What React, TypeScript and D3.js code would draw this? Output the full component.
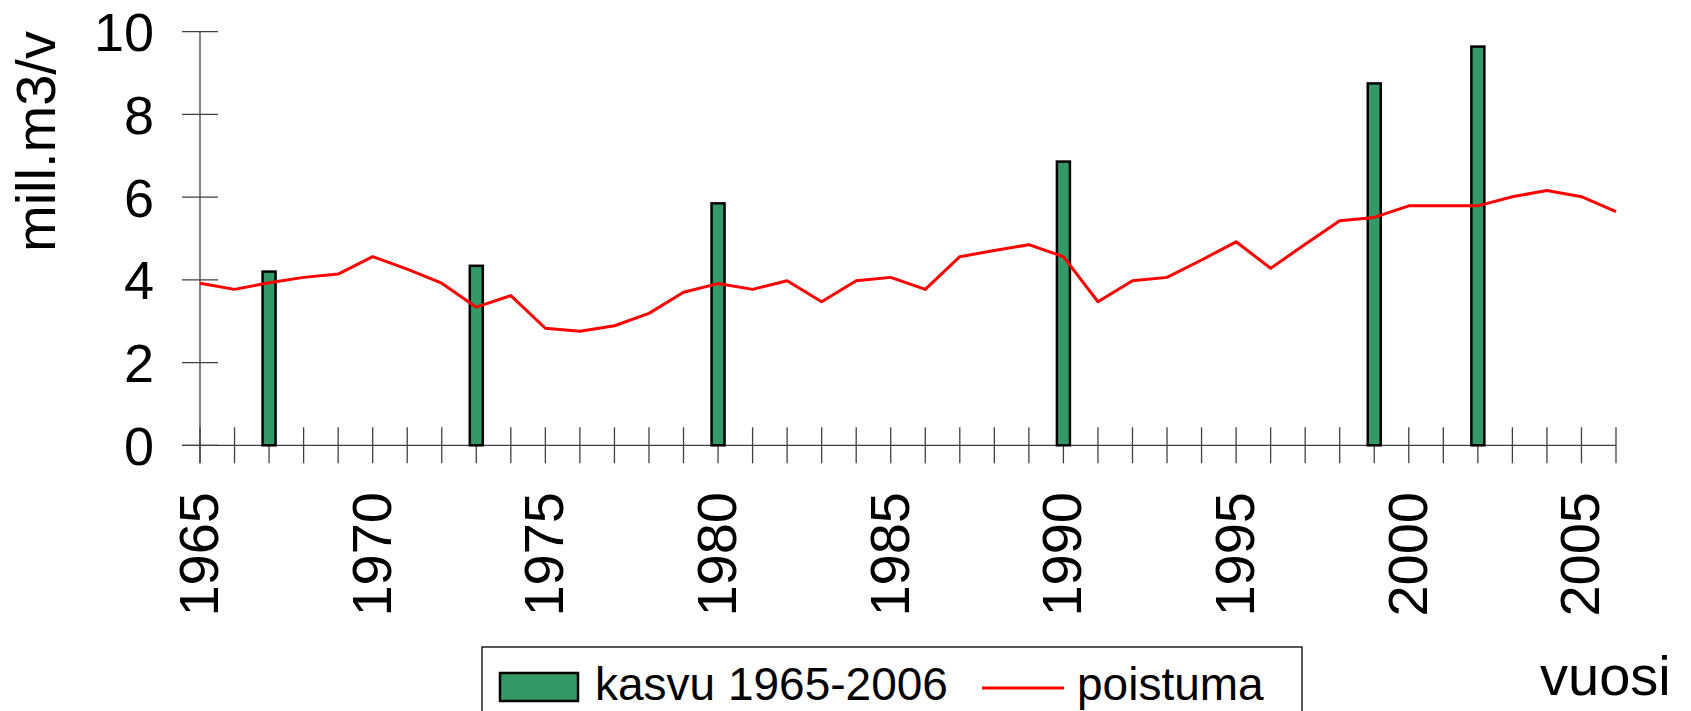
import * as d3 from 'd3'

// Vuodet (kategoria-akseli)
const YEARS = [
  1965, 1966, 1967, 1968, 1969, 1970, 1971, 1972, 1973, 1974,
  1975, 1976, 1977, 1978, 1979, 1980, 1981, 1982, 1983, 1984,
  1985, 1986, 1987, 1988, 1989, 1990, 1991, 1992, 1993, 1994,
  1995, 1996, 1997, 1998, 1999, 2000, 2001, 2002, 2003, 2004,
  2005, 2006,
]

// poistuma, mill.m3/v
const POISTUMA = [
  3.92, 3.77, 3.93, 4.06, 4.14, 4.56, 4.26, 3.92, 3.34, 3.62,
  2.83, 2.76, 2.89, 3.19, 3.70, 3.91, 3.77, 3.98, 3.47, 3.98,
  4.06, 3.77, 4.56, 4.71, 4.85, 4.56, 3.47, 3.98, 4.06, 4.48,
  4.92, 4.28, 4.86, 5.43, 5.51, 5.79, 5.79, 5.79, 6.01, 6.16,
  6.01, 5.65,
]

// kasvu 1965-2006 (inventointivuodet)
const KASVU_YEARS = [1967, 1973, 1980, 1990, 1999, 2002]
const KASVU = [4.2, 4.34, 5.85, 6.86, 8.75, 9.64]

const Y_TICKS = [0, 2, 4, 6, 8, 10]
const X_LABELS = [1965, 1970, 1975, 1980, 1985, 1990, 1995, 2000, 2005]

const W = 1691
const H = 711
const FONT = '"Liberation Sans", Arial, sans-serif'
const AXIS = '#404040'
const GREEN = '#339966'
const RED = '#ff0000'

export default function App() {
  const x = d3.scalePoint<number>().domain(YEARS).range([200, 1616])
  const y = d3.scaleLinear().domain([0, 10]).range([445.3, 31.7])
  const y0 = y(0)
  const barW = 13

  const line = d3.line<number>()
    .x((_, i) => x(YEARS[i]) as number)
    .y((d) => y(d))

  return (
    <div style={{ position: 'absolute', left: 0, top: 0 }}>
      <svg width={W} height={H} style={{ display: 'block', background: '#fff' }} fontFamily={FONT}>
        {/* ── Y axis ── */}
        <line x1={200} x2={200} y1={y(10)} y2={y0 + 18} stroke={AXIS} strokeWidth={1.3} />
        {Y_TICKS.map((t) => (
          <g key={t}>
            <line x1={182} x2={218} y1={y(t)} y2={y(t)} stroke={AXIS} strokeWidth={1.3} />
            <text x={154} y={y(t)} dy="0.36em" textAnchor="end" fontSize={54} fill="#000">{t}</text>
          </g>
        ))}
        <text transform="translate(55,252) rotate(-90)" fontSize={56} fill="#000">mill.m3/v</text>

        {/* ── X axis ── */}
        <line x1={182} x2={x(2006) as number} y1={y0} y2={y0} stroke={AXIS} strokeWidth={1.3} />
        {YEARS.map((yr) => (
          <line key={yr} x1={x(yr) as number} x2={x(yr) as number} y1={y0 - 18} y2={y0 + 18}
            stroke={AXIS} strokeWidth={1.3} />
        ))}
        {X_LABELS.map((yr) => (
          <text key={yr} transform={`translate(${(x(yr) as number) + 18},492) rotate(-90)`}
            textAnchor="end" fontSize={56} fill="#000">{yr}</text>
        ))}
        <text x={1540} y={695} fontSize={56} fill="#000">vuosi</text>

        {/* ── Bars ── */}
        {KASVU.map((v, i) => {
          const cx = x(KASVU_YEARS[i]) as number
          return (
            <rect key={KASVU_YEARS[i]} x={cx - barW / 2} y={y(v)} width={barW} height={y0 - y(v)}
              fill={GREEN} stroke="#000" strokeWidth={2.5} />
          )
        })}

        {/* ── Line ── */}
        <path d={line(POISTUMA) ?? ''} fill="none" stroke={RED} strokeWidth={3} strokeLinejoin="round" />

        {/* ── Legend ── */}
        <rect x={482} y={647} width={820} height={90} fill="#fff" stroke="#000" strokeWidth={1.3} />
        <rect x={500} y={673} width={78} height={28} fill={GREEN} stroke="#000" strokeWidth={2.5} />
        <text x={595} y={700} fontSize={46} fill="#000">kasvu 1965-2006</text>
        <line x1={982} x2={1064} y1={688} y2={688} stroke={RED} strokeWidth={3} />
        <text x={1077} y={700} fontSize={46} fill="#000">poistuma</text>
      </svg>
    </div>
  )
}
